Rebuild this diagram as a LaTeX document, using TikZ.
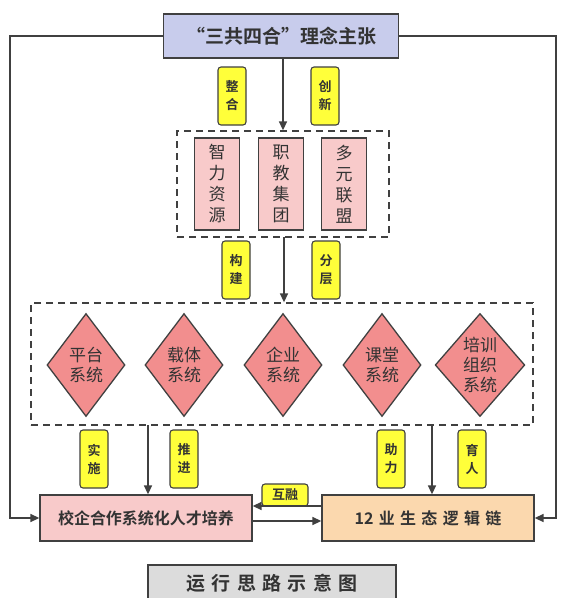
\documentclass[tikz,border=0pt]{standalone}
\usepackage{fontspec}
\newfontfamily\cjk{Noto Sans CJK SC}[BoldFont={* Bold}]
\usetikzlibrary{shapes.geometric,arrows.meta}
\definecolor{edge}{HTML}{404040}
\definecolor{txt}{HTML}{333333}
\definecolor{topfill}{HTML}{C8CCEC}
\definecolor{lab}{HTML}{FFFF3A}
\definecolor{pinkbox}{HTML}{F8CACA}
\definecolor{diafill}{HTML}{F28E8E}
\definecolor{peach}{HTML}{FBD8AE}
\definecolor{grayfill}{HTML}{DCDCDC}
\tikzset{
  base/.style={draw=edge, line width=1.3pt, text=txt, font=\cjk\bfseries, inner sep=0pt, align=center},
  topbox/.style={base, fill=topfill, minimum width=235pt, minimum height=44pt, font=\cjk\bfseries\fontsize{19}{22}\selectfont},
  labbox/.style={base, fill=lab, rounded corners=3pt, line width=1.1pt, minimum width=28pt, minimum height=58pt, font=\cjk\bfseries\fontsize{13}{18}\selectfont},
  dashbox/.style={draw=edge, line width=1.3pt, dash pattern=on 7pt off 5pt, minimum width=#1, inner sep=0pt},
  pbox/.style={base, fill=pinkbox, minimum width=45pt, minimum height=92pt, font=\cjk\fontsize{17}{21}\selectfont},
  dia/.style={base, diamond, fill=diafill, minimum width=78pt, minimum height=103pt, font=\cjk\fontsize{17}{20}\selectfont},
  bbox/.style={base, minimum width=212pt, minimum height=46pt, font=\cjk\bfseries\fontsize{16}{18}\selectfont},
  arr/.style={draw=edge, line width=1.5pt, -{Triangle[length=9pt,width=8pt]}},
  ln/.style={draw=edge, line width=1.5pt}
}
\begin{document}
\begin{tikzpicture}[x=1pt,y=-1pt]
\useasboundingbox[fill=white] (0,0) rectangle (564,598);
% top
\node[topbox] (top) at (281,36) {“三共四合”理念主张};
\node[labbox] (l1) at (232,96) {整\\合};
\node[labbox] (l2) at (325,96) {创\\新};
% dashed box 1
\node[dashbox=212pt, minimum height=106pt] (d1) at (283,184) {};
\node[pbox] (p1) at (217,184) {智\\力\\资\\源};
\node[pbox] (p2) at (281,184) {职\\教\\集\\团};
\node[pbox] (p3) at (344,184) {多\\元\\联\\盟};
\draw[arr] (top.south -| d1.north) -- (d1.north);
\node[labbox] (l3) at (236,270) {构\\建};
\node[labbox] (l4) at (326,270) {分\\层};
% dashed box 2
\node[dashbox=502pt, minimum height=122pt] (d2) at (282,364) {};
\coordinate (d1b) at (284,237);
\draw[arr] (d1b) -- (d1b |- d2.north);
\node[dia] (s1) at (86,365) {平台\\系统};
\node[dia] (s2) at (184,365) {载体\\系统};
\node[dia] (s3) at (283,365) {企业\\系统};
\node[dia] (s4) at (382,365) {课堂\\系统};
\node[dia] (s5) at (480,365) {培训\\组织\\系统};
% bottom
\node[bbox, fill=pinkbox] (lb) at (146,518) {校企合作系统化人才培养};
\node[bbox, fill=peach] (rb) at (428,518) {12\,\,业\,\,生\,\,态\,\,逻\,\,辑\,\,链};
\coordinate (a1) at (148,425);
\coordinate (a2) at (432,425);
\draw[arr] (a1) -- (a1 |- lb.north);
\draw[arr] (a2) -- (a2 |- rb.north);
\node[labbox] (l5) at (94,459) {实\\施};
\node[labbox] (l6) at (184,459) {推\\进};
\node[labbox] (l7) at (391,459) {助\\力};
\node[labbox] (l8) at (472,459) {育\\人};
\node[labbox, minimum width=46pt, minimum height=22pt] (l9) at (285,495) {互融};
\draw[arr] ([yshift=-3pt]lb.east) -- ([yshift=-3pt]rb.west);
\draw[arr] ([yshift=12pt]rb.west) -- ([yshift=12pt]lb.east);
% outer loops
\coordinate (cl) at (10,36);
\coordinate (cr) at (556,36);
\draw[arr] (top.west) -- (cl) -- (cl |- lb.west) -- (lb.west);
\draw[arr] (top.east) -- (cr) -- (cr |- rb.east) -- (rb.east);
% title
\node[base, fill=grayfill, minimum width=248pt, minimum height=36pt, font=\cjk\bfseries\fontsize{19}{20}\selectfont] (title) at (272,583) {运\,\,行\,\,思\,\,路\,\,示\,\,意\,\,图};
\end{tikzpicture}
\end{document}
